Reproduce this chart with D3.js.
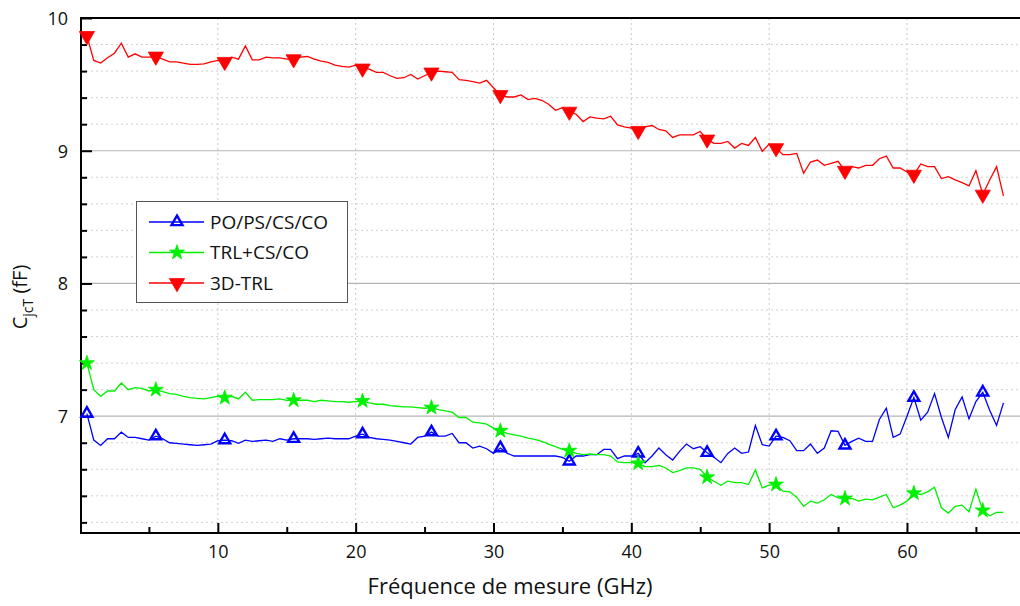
<!DOCTYPE html>
<html>
<head>
<meta charset="utf-8">
<script src="https://cdn.jsdelivr.net/npm/d3@7"></script>
<style>
  body { margin: 0; background: #fff; }
  svg { display: block; font-family: "Open Sans", "Noto Sans", sans-serif; }
</style>
</head>
<body>
<script>
// measurement frequencies (GHz), one point every 0.5 GHz
const freqs = [
  0.5, 1, 1.5, 2, 2.5, 3, 3.5, 4, 4.5, 5,
  5.5, 6, 6.5, 7, 7.5, 8, 8.5, 9, 9.5, 10,
  10.5, 11, 11.5, 12, 12.5, 13, 13.5, 14, 14.5, 15,
  15.5, 16, 16.5, 17, 17.5, 18, 18.5, 19, 19.5, 20,
  20.5, 21, 21.5, 22, 22.5, 23, 23.5, 24, 24.5, 25,
  25.5, 26, 26.5, 27, 27.5, 28, 28.5, 29, 29.5, 30,
  30.5, 31, 31.5, 32, 32.5, 33, 33.5, 34, 34.5, 35,
  35.5, 36, 36.5, 37, 37.5, 38, 38.5, 39, 39.5, 40,
  40.5, 41, 41.5, 42, 42.5, 43, 43.5, 44, 44.5, 45,
  45.5, 46, 46.5, 47, 47.5, 48, 48.5, 49, 49.5, 50,
  50.5, 51, 51.5, 52, 52.5, 53, 53.5, 54, 54.5, 55,
  55.5, 56, 56.5, 57, 57.5, 58, 58.5, 59, 59.5, 60,
  60.5, 61, 61.5, 62, 62.5, 63, 63.5, 64, 64.5, 65,
  65.5, 66, 66.5, 67
];

// PO/PS/CS/CO
const bluePoPs = [
  7.02, 6.82, 6.78, 6.83, 6.83, 6.88, 6.84, 6.84, 6.83, 6.82,
  6.85, 6.83, 6.80, 6.795, 6.79, 6.785, 6.78, 6.785, 6.79, 6.815,
  6.82, 6.815, 6.795, 6.82, 6.81, 6.815, 6.82, 6.81, 6.83, 6.82,
  6.83, 6.83, 6.83, 6.825, 6.83, 6.835, 6.83, 6.83, 6.83, 6.85,
  6.865, 6.84, 6.83, 6.825, 6.82, 6.81, 6.80, 6.79, 6.84, 6.85,
  6.88, 6.85, 6.85, 6.87, 6.80, 6.80, 6.76, 6.775, 6.755, 6.72,
  6.76, 6.72, 6.70, 6.70, 6.70, 6.70, 6.70, 6.70, 6.70, 6.69,
  6.66, 6.70, 6.70, 6.71, 6.71, 6.75, 6.75, 6.68, 6.70, 6.70,
  6.72, 6.65, 6.70, 6.76, 6.71, 6.67, 6.735, 6.79, 6.755, 6.77,
  6.725, 6.69, 6.65, 6.72, 6.76, 6.72, 6.73, 6.93, 6.785, 6.775,
  6.85, 6.84, 6.815, 6.74, 6.74, 6.79, 6.72, 6.76, 6.89, 6.885,
  6.78, 6.81, 6.835, 6.81, 6.81, 6.975, 7.06, 6.84, 6.865, 7.00,
  7.14, 6.97, 7.03, 7.17, 6.99, 6.84, 7.05, 7.145, 6.98, 7.11,
  7.18, 7.045, 6.93, 7.10
];

// TRL+CS/CO
const greenTrl = [
  7.40, 7.20, 7.15, 7.19, 7.19, 7.25, 7.20, 7.215, 7.21, 7.19,
  7.20, 7.185, 7.17, 7.165, 7.15, 7.14, 7.135, 7.13, 7.14, 7.15,
  7.14, 7.15, 7.13, 7.18, 7.12, 7.125, 7.125, 7.125, 7.13, 7.12,
  7.12, 7.12, 7.12, 7.11, 7.12, 7.115, 7.11, 7.11, 7.105, 7.11,
  7.115, 7.10, 7.09, 7.09, 7.08, 7.075, 7.07, 7.07, 7.065, 7.06,
  7.065, 7.05, 7.04, 7.03, 6.99, 6.99, 6.955, 6.95, 6.94, 6.91,
  6.89, 6.87, 6.86, 6.85, 6.835, 6.825, 6.81, 6.79, 6.77, 6.75,
  6.74, 6.72, 6.71, 6.715, 6.71, 6.71, 6.70, 6.655, 6.65, 6.65,
  6.645, 6.62, 6.62, 6.63, 6.61, 6.575, 6.59, 6.61, 6.61, 6.60,
  6.54, 6.51, 6.48, 6.51, 6.50, 6.50, 6.485, 6.595, 6.46, 6.48,
  6.485, 6.435, 6.43, 6.39, 6.32, 6.36, 6.345, 6.37, 6.41, 6.385,
  6.38, 6.38, 6.36, 6.375, 6.37, 6.39, 6.41, 6.31, 6.33, 6.36,
  6.42, 6.41, 6.43, 6.465, 6.31, 6.27, 6.32, 6.33, 6.28, 6.45,
  6.29, 6.25, 6.275, 6.275
];

// 3D-TRL
const red3dTrl = [
  9.865, 9.68, 9.66, 9.70, 9.735, 9.81, 9.705, 9.73, 9.705, 9.705,
  9.71, 9.69, 9.67, 9.67, 9.66, 9.65, 9.65, 9.655, 9.67, 9.68,
  9.67, 9.705, 9.69, 9.79, 9.685, 9.685, 9.705, 9.70, 9.70, 9.69,
  9.69, 9.705, 9.71, 9.69, 9.675, 9.665, 9.645, 9.635, 9.63, 9.645,
  9.62, 9.615, 9.59, 9.59, 9.565, 9.545, 9.55, 9.575, 9.54, 9.565,
  9.59, 9.60, 9.595, 9.59, 9.535, 9.53, 9.52, 9.51, 9.53, 9.475,
  9.42, 9.405, 9.405, 9.42, 9.385, 9.395, 9.38, 9.35, 9.305, 9.325,
  9.295, 9.275, 9.22, 9.255, 9.245, 9.24, 9.26, 9.195, 9.18, 9.17,
  9.15, 9.18, 9.19, 9.16, 9.15, 9.10, 9.12, 9.12, 9.12, 9.145,
  9.085, 9.055, 9.055, 9.07, 9.02, 9.055, 9.04, 9.10, 8.995, 9.05,
  9.02, 8.97, 8.97, 8.98, 8.83, 8.915, 8.93, 8.89, 8.905, 8.92,
  8.85, 8.88, 8.87, 8.89, 8.89, 8.94, 8.96, 8.87, 8.87, 8.84,
  8.82, 8.90, 8.88, 8.88, 8.79, 8.805, 8.78, 8.76, 8.735, 8.85,
  8.67, 8.78, 8.88, 8.66
];

// frequencies that carry a symbol
const markerFreqs = [0.5, 5.5, 10.5, 15.5, 20.5, 25.5, 30.5, 35.5, 40.5, 45.5, 50.5, 55.5, 60.5, 65.5];

const xTicks = [10, 20, 30, 40, 50, 60];
const xMinorTicks = [5, 15, 25, 35, 45, 55, 65];
const yTicks = [7, 8, 9, 10];
const yMinorTicks = [6.2, 6.4, 6.6, 6.8, 7.2, 7.4, 7.6, 7.8, 8.2, 8.4, 8.6, 8.8, 9.2, 9.4, 9.6, 9.8];

const seriesNames = ["PO/PS/CS/CO", "TRL+CS/CO", "3D-TRL"];

const W = 1020, H = 606;
const plotLeft = 81, plotRight = 1020, plotTop = 18, plotBottom = 533;

const x = d3.scaleLinear().domain([0, 68.2]).range([80, 1020]);
const y = d3.scaleLinear().domain([6.12, 10]).range([plotBottom, plotTop]);

const svg = d3.select("body").append("svg")
  .attr("width", W)
  .attr("height", H);

// grid
svg.append("g").selectAll("line")
  .data(yMinorTicks)
  .enter().append("line")
  .attr("x1", plotLeft).attr("x2", plotRight)
  .attr("y1", d => y(d)).attr("y2", d => y(d))
  .attr("stroke", "#d0d0d0")
  .attr("stroke-dasharray", "2,3");

svg.append("g").selectAll("line")
  .data(xTicks)
  .enter().append("line")
  .attr("x1", d => x(d)).attr("x2", d => x(d))
  .attr("y1", plotTop).attr("y2", plotBottom)
  .attr("stroke", "#c8c8c8")
  .attr("stroke-dasharray", "2,3");

svg.append("g").selectAll("line")
  .data(yTicks.filter(d => d < 10))
  .enter().append("line")
  .attr("x1", plotLeft).attr("x2", plotRight)
  .attr("y1", d => y(d)).attr("y2", d => y(d))
  .attr("stroke", "#b4b4b4")
  .attr("stroke-width", 1.2);

// axes (ticks point inward)
const yAxis = svg.append("g")
  .attr("transform", `translate(${plotLeft},0)`)
  .call(d3.axisLeft(y).tickValues(yTicks).tickSize(-11).tickPadding(13).tickFormat(d3.format("d")));
svg.append("g")
  .attr("transform", `translate(${plotLeft},0)`)
  .call(d3.axisLeft(y).tickValues(yMinorTicks).tickSize(-6).tickFormat(""));

const xAxis = svg.append("g")
  .attr("transform", `translate(0,${plotBottom})`)
  .call(d3.axisBottom(x).tickValues(xTicks).tickSize(-10).tickPadding(12).tickFormat(d3.format("d")));
svg.append("g")
  .attr("transform", `translate(0,${plotBottom})`)
  .call(d3.axisBottom(x).tickValues(xMinorTicks).tickSize(-6).tickFormat(""));

svg.selectAll(".domain").remove();
svg.selectAll(".tick line").attr("stroke", "#000").attr("stroke-width", 2);
svg.selectAll(".tick text")
  .attr("fill", "#111")
  .style("font-size", "18px")
  .style("font-family", "\"Open Sans\", sans-serif");
yAxis.selectAll(".tick text").attr("dy", "0.35em");
xAxis.selectAll(".tick text").attr("dy", "0.71em");

// frame lines
svg.append("line").attr("x1", plotLeft).attr("x2", plotRight).attr("y1", plotTop).attr("y2", plotTop)
  .attr("stroke", "#000").attr("stroke-width", 2);
svg.append("line").attr("x1", plotLeft).attr("x2", plotLeft).attr("y1", plotTop - 1).attr("y2", plotBottom + 1)
  .attr("stroke", "#000").attr("stroke-width", 2);
svg.append("line").attr("x1", plotLeft - 1).attr("x2", plotRight).attr("y1", plotBottom).attr("y2", plotBottom)
  .attr("stroke", "#000").attr("stroke-width", 2);

// series
const series = [
  { name: seriesNames[0], values: bluePoPs, color: "#0000ff", kind: "triUp" },
  { name: seriesNames[1], values: greenTrl, color: "#00f000", kind: "star" },
  { name: seriesNames[2], values: red3dTrl, color: "#ff0000", kind: "triDown" }
];

const line = d3.line()
  .x(d => x(d.f))
  .y(d => y(d.v));

const symbolFor = (kind) => {
  if (kind === "star") return d3.symbol().type(d3.symbolStar).size(70)();
  if (kind === "triUp") return d3.symbol().type(d3.symbolTriangle).size(52)();
  return d3.symbol().type(d3.symbolTriangle).size(100)();
};

const drawMarker = (g, kind, color, cx, cy) => {
  const p = g.append("path")
    .attr("d", symbolFor(kind))
    .attr("transform", `translate(${cx},${cy})` + (kind === "triDown" ? " rotate(180)" : ""));
  if (kind === "triUp") {
    p.attr("fill", "none").attr("stroke", color).attr("stroke-width", 2.4);
  } else {
    p.attr("fill", color).attr("stroke", color).attr("stroke-width", 0.8);
  }
};

series.forEach(s => {
  const pts = freqs.map((f, i) => ({ f: f, v: s.values[i] }));
  const g = svg.append("g");
  g.append("path")
    .datum(pts)
    .attr("d", line)
    .attr("fill", "none")
    .attr("stroke", s.color)
    .attr("stroke-width", 1.3);
  pts.filter(p => markerFreqs.includes(p.f)).forEach(p => {
    drawMarker(g, s.kind, s.color, x(p.f), y(p.v));
  });
});

// legend
const legend = svg.append("g");
legend.append("rect")
  .attr("x", 136.5).attr("y", 201.5)
  .attr("width", 211).attr("height", 101)
  .attr("fill", "#fff")
  .attr("stroke", "#555")
  .attr("stroke-width", 1);

series.forEach((s, i) => {
  const ly = 222 + i * 30.5;
  legend.append("line")
    .attr("x1", 149).attr("x2", 204)
    .attr("y1", ly).attr("y2", ly)
    .attr("stroke", s.color).attr("stroke-width", 1.3);
  drawMarker(legend, s.kind, s.color, 177, ly);
  legend.append("text")
    .attr("x", 210).attr("y", ly)
    .attr("dy", "0.35em")
    .attr("fill", "#111")
    .style("font-size", "19px")
    .text(s.name);
});

// axis titles
svg.append("text")
  .attr("x", 510).attr("y", 594)
  .attr("text-anchor", "middle")
  .attr("fill", "#111")
  .style("font-size", "22px")
  .text("Fréquence de mesure (GHz)");

const yTitle = svg.append("text")
  .attr("transform", "translate(27,297) rotate(-90)")
  .attr("text-anchor", "middle")
  .attr("fill", "#111")
  .style("font-size", "20px");
yTitle.append("tspan").text("C");
yTitle.append("tspan").attr("dy", 6).style("font-size", "14px").text("jcT");
yTitle.append("tspan").attr("dy", -6).text(" (fF)");
</script>
</body>
</html>
